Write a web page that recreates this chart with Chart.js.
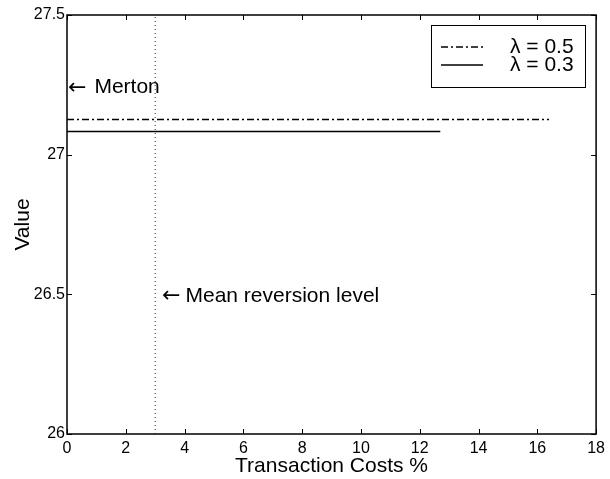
<!DOCTYPE html>
<html>
<head>
<meta charset="utf-8">
<script src="https://cdn.jsdelivr.net/npm/chart.js@4.4.1/dist/chart.umd.min.js"></script>
<style>
  html, body { margin: 0; padding: 0; background: #ffffff; }
  #wrap { width: 610px; height: 479px; }
</style>
</head>
<body>
<div id="wrap"><canvas id="chart" width="610" height="479"></canvas></div>
<script>
// Tick positions
const xTicks = [0, 2, 4, 6, 8, 10, 12, 14, 16, 18];
const yTicks = [26, 26.5, 27, 27.5];

// Value against transaction costs for two reversion speeds
const costsLambda05 = [0, 16.4];
const valuesLambda05 = [27.126, 27.126];
const costsLambda03 = [0, 12.7];
const valuesLambda03 = [27.083, 27.083];

// Mean reversion level marker
const meanReversionCost = [3, 3];
const meanReversionSpan = [26, 27.5];

// Series names and text notes
const seriesNames = ['\u03bb = 0.5', '\u03bb = 0.3'];
const notes = [
  { text: 'Merton', x: 0, y: 27.24, gap: 8 },
  { text: 'Mean reversion level', x: 3.2, y: 26.495, gap: 5 }
];

const FONT = '"Liberation Sans", Arial, Helvetica, "DejaVu Sans", sans-serif';
const ARROW_FONT = '"DejaVu Sans", sans-serif';
const DASH_DOT = [7, 3, 2, 3];

function pts(xs, ys) { return xs.map((x, i) => ({ x: x, y: ys[i] })); }

const framePlugin = {
  id: 'frame',
  afterDraw(chart) {
    const { ctx, chartArea: a, scales } = chart;
    const xs = scales.x, ys = scales.y;
    ctx.save();
    // axes box
    ctx.strokeStyle = '#000';
    ctx.lineWidth = 1.5;
    ctx.strokeRect(a.left, a.top, a.right - a.left, a.bottom - a.top);
    // inward tick marks on all four sides
    const tl = 5;
    ctx.lineWidth = 1;
    ctx.beginPath();
    xTicks.forEach(v => {
      const px = Math.round(xs.getPixelForValue(v)) + 0.5;
      ctx.moveTo(px, a.bottom); ctx.lineTo(px, a.bottom - tl);
      ctx.moveTo(px, a.top); ctx.lineTo(px, a.top + tl);
    });
    yTicks.forEach(v => {
      const py = Math.round(ys.getPixelForValue(v)) + 0.5;
      ctx.moveTo(a.left, py); ctx.lineTo(a.left + tl, py);
      ctx.moveTo(a.right, py); ctx.lineTo(a.right - tl, py);
    });
    ctx.stroke();

    // text notes with a leading left arrow
    ctx.fillStyle = '#000';
    ctx.textAlign = 'left';
    ctx.textBaseline = 'middle';
    notes.forEach(n => {
      const px = xs.getPixelForValue(n.x) + 1;
      const py = ys.getPixelForValue(n.y);
      ctx.font = '22px ' + ARROW_FONT;
      const aw = ctx.measureText('\u2190').width;
      ctx.fillText('\u2190', px, py + 1);
      ctx.font = '21px ' + FONT;
      ctx.fillText(n.text, px + aw + n.gap, py);
    });

    // legend
    const lx = 431, ly = 25, lw = 154, lh = 62;
    ctx.fillStyle = '#fff';
    ctx.fillRect(lx, ly, lw, lh);
    ctx.strokeStyle = '#000';
    ctx.lineWidth = 1;
    ctx.strokeRect(lx + 0.5, ly + 0.5, lw, lh);
    const rows = [ly + 22, ly + 40];
    const dashes = [DASH_DOT, []];
    rows.forEach((ry, i) => {
      ctx.beginPath();
      ctx.setLineDash(dashes[i]);
      ctx.lineWidth = 1.5;
      ctx.moveTo(lx + 10, ry); ctx.lineTo(lx + 52, ry);
      ctx.stroke();
      ctx.setLineDash([]);
      ctx.fillStyle = '#000';
      ctx.font = '21px ' + FONT;
      ctx.textBaseline = 'middle';
      ctx.fillText(seriesNames[i], lx + 79, ry);
    });
    ctx.restore();
  }
};

new Chart(document.getElementById('chart'), {
  type: 'scatter',
  data: {
    datasets: [
      {
        label: seriesNames[0],
        data: pts(costsLambda05, valuesLambda05),
        showLine: true, borderColor: '#000', borderWidth: 1.5,
        borderDash: DASH_DOT, pointRadius: 0, fill: false
      },
      {
        label: seriesNames[1],
        data: pts(costsLambda03, valuesLambda03),
        showLine: true, borderColor: '#000', borderWidth: 1.5,
        pointRadius: 0, fill: false
      },
      {
        label: 'mean reversion',
        data: pts(meanReversionCost, meanReversionSpan),
        showLine: true, borderColor: '#333', borderWidth: 1,
        borderDash: [1, 3], pointRadius: 0, fill: false
      }
    ]
  },
  options: {
    responsive: false,
    animation: false,
    devicePixelRatio: 1,
    layout: { padding: { top: 15, right: 11, left: 0, bottom: 0 } },
    plugins: { legend: { display: false }, tooltip: { enabled: false } },
    scales: {
      x: {
        type: 'linear', min: 0, max: 18,
        afterBuildTicks: s => { s.ticks = xTicks.map(v => ({ value: v })); },
        afterFit: s => { s.height = 45; },
        grid: { display: false, drawTicks: false },
        border: { display: false },
        ticks: { color: '#000', font: { family: FONT, size: 16 }, padding: 5, maxRotation: 0, autoSkip: false,
                 callback: v => String(v) },
        title: { display: true, text: 'Transaction Costs %', color: '#000',
                 font: { family: FONT, size: 21 }, padding: { top: 0, bottom: 0 } }
      },
      y: {
        type: 'linear', min: 26, max: 27.5,
        afterBuildTicks: s => { s.ticks = yTicks.map(v => ({ value: v })); },
        afterFit: s => { s.width = 67; },
        grid: { display: false, drawTicks: false },
        border: { display: false },
        ticks: { color: '#000', font: { family: FONT, size: 16 }, padding: 2, autoSkip: false,
                 callback: v => String(v) },
        title: { display: true, text: 'Value', color: '#000',
                 font: { family: FONT, size: 21 }, padding: { top: 11, bottom: 0 } }
      }
    }
  },
  plugins: [framePlugin]
});
</script>
</body>
</html>
